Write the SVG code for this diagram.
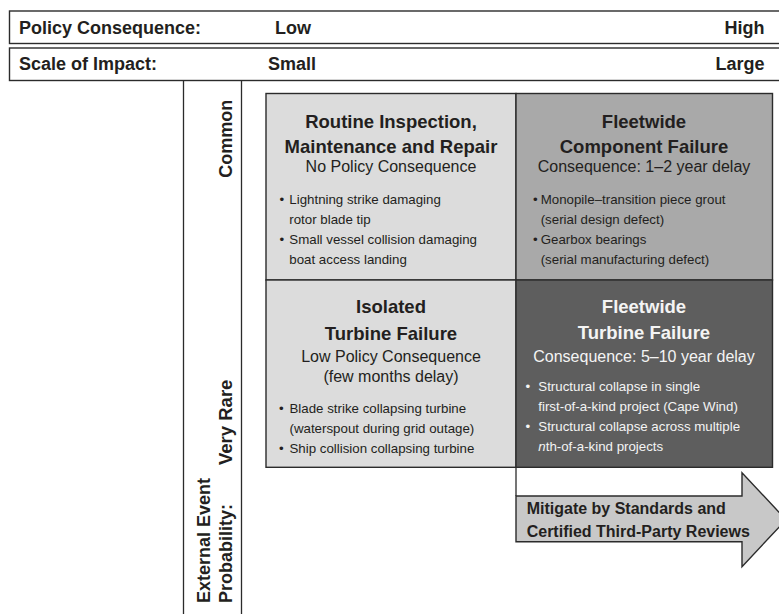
<svg xmlns="http://www.w3.org/2000/svg" width="779" height="614" viewBox="0 0 779 614">
<style>
  text { font-family: "Liberation Sans", Arial, Helvetica, sans-serif; fill: #231f20; }
  .hdr { font-size: 18px; font-weight: bold; }
  .axis { font-size: 18px; font-weight: bold; }
  .title { font-size: 18.5px; font-weight: bold; text-anchor: middle; }
  .sub { font-size: 16px; text-anchor: middle; }
  .bul { font-size: 13.3px; }
  .arrowtxt { font-size: 16px; font-weight: bold; }
  .w { fill: #f4f4f4; }
  .frame { fill: #ffffff; stroke: #2b2b2b; stroke-width: 1.4; }
  .cell { stroke: #2b2b2b; stroke-width: 1.4; }
  .rule { stroke: #2b2b2b; stroke-width: 1.3; fill: none; }
</style>
<rect width="779" height="614" fill="#ffffff"/>

<g id="header-policy">
  <rect class="frame" x="9.5" y="11" width="780" height="32.5"/>
  <text class="hdr" x="19" y="33.5">Policy Consequence:</text>
  <text class="hdr" x="275" y="33.5">Low</text>
  <text class="hdr" x="764.5" y="33.5" text-anchor="end">High</text>
</g>

<g id="header-scale">
  <rect class="frame" x="9.5" y="48" width="780" height="32.5"/>
  <text class="hdr" x="19" y="69.5">Scale of Impact:</text>
  <text class="hdr" x="268" y="69.5">Small</text>
  <text class="hdr" x="764.5" y="69.5" text-anchor="end">Large</text>
</g>

<g id="probability-axis">
  <line class="rule" x1="183.5" y1="80.5" x2="183.5" y2="614"/>
  <line class="rule" x1="241.5" y1="80.5" x2="241.5" y2="614"/>
  <text class="axis" transform="translate(231.5,138.8) rotate(-90)" text-anchor="middle">Common</text>
  <text class="axis" transform="translate(231.5,465) rotate(-90)" style="font-size:18.5px">Very Rare</text>
  <text class="axis" transform="translate(209.5,603) rotate(-90)">External Event</text>
  <text class="axis" transform="translate(231.5,603) rotate(-90)">Probability:</text>
</g>

<g id="cell-routine">
  <rect class="cell" x="266" y="93.5" width="250" height="186.5" fill="#dcdcdc"/>
  <text class="title" x="391" y="127.5">Routine Inspection,</text>
  <text class="title" x="391" y="152.5">Maintenance and Repair</text>
  <text class="sub" x="391" y="172">No Policy Consequence</text>
  <text class="bul" x="279.5" y="204">•</text>
  <text class="bul" x="289.3" y="204">Lightning strike damaging</text>
  <text class="bul" x="289.3" y="224">rotor blade tip</text>
  <text class="bul" x="279.5" y="244">•</text>
  <text class="bul" x="289.3" y="244">Small vessel collision damaging</text>
  <text class="bul" x="289.3" y="264">boat access landing</text>
</g>

<g id="cell-fleet-component">
  <rect class="cell" x="516" y="93.5" width="256.5" height="186.5" fill="#a9a9a9"/>
  <text class="title" x="644" y="127.5">Fleetwide</text>
  <text class="title" x="644" y="152.5">Component Failure</text>
  <text class="sub" x="644" y="172">Consequence: 1–2 year delay</text>
  <text class="bul" x="533" y="204">•</text>
  <text class="bul" x="540.7" y="204">Monopile–transition piece grout</text>
  <text class="bul" x="540.7" y="224">(serial design defect)</text>
  <text class="bul" x="533" y="244">•</text>
  <text class="bul" x="540.7" y="244">Gearbox bearings</text>
  <text class="bul" x="540.7" y="264">(serial manufacturing defect)</text>
</g>

<g id="cell-isolated">
  <rect class="cell" x="266" y="280" width="250" height="187.3" fill="#dcdcdc"/>
  <text class="title" x="391" y="313.3">Isolated</text>
  <text class="title" x="391" y="340">Turbine Failure</text>
  <text class="sub" x="391" y="362.3">Low Policy Consequence</text>
  <text class="sub" x="391" y="381.5">(few months delay)</text>
  <text class="bul" x="279" y="412.7">•</text>
  <text class="bul" x="289.5" y="412.7">Blade strike collapsing turbine</text>
  <text class="bul" x="289.5" y="432.7">(waterspout during grid outage)</text>
  <text class="bul" x="279" y="452.7">•</text>
  <text class="bul" x="289.5" y="452.7">Ship collision collapsing turbine</text>
</g>

<g id="cell-fleet-turbine">
  <rect class="cell" x="516" y="280" width="256.5" height="187.3" fill="#5e5e5e"/>
  <text class="title w" x="644" y="312.5">Fleetwide</text>
  <text class="title w" x="644" y="339">Turbine Failure</text>
  <text class="sub w" x="644" y="361.5">Consequence: 5–10 year delay</text>
  <text class="bul w" x="525.5" y="390.7">•</text>
  <text class="bul w" x="538.3" y="390.7">Structural collapse in single</text>
  <text class="bul w" x="538.3" y="410.7">first-of-a-kind project (Cape Wind)</text>
  <text class="bul w" x="525.5" y="430.7">•</text>
  <text class="bul w" x="538.3" y="430.7">Structural collapse across multiple</text>
  <text class="bul w" x="538.3" y="450.5"><tspan font-style="italic">n</tspan>th-of-a-kind projects</text>
</g>

<g id="connectors">
  <line class="rule" x1="516" y1="467.3" x2="516" y2="496"/>
</g>

<g id="mitigation-arrow">
  <polygon points="516,496 742,496 742,472.7 786,519.7 742,566.7 742,541.7 516,541.7" fill="#c8c8c8" stroke="#2b2b2b" stroke-width="1.4"/>
  <text class="arrowtxt" x="526.7" y="514">Mitigate by Standards and</text>
  <text class="arrowtxt" x="526.7" y="537">Certified Third-Party Reviews</text>
</g>
</svg>
